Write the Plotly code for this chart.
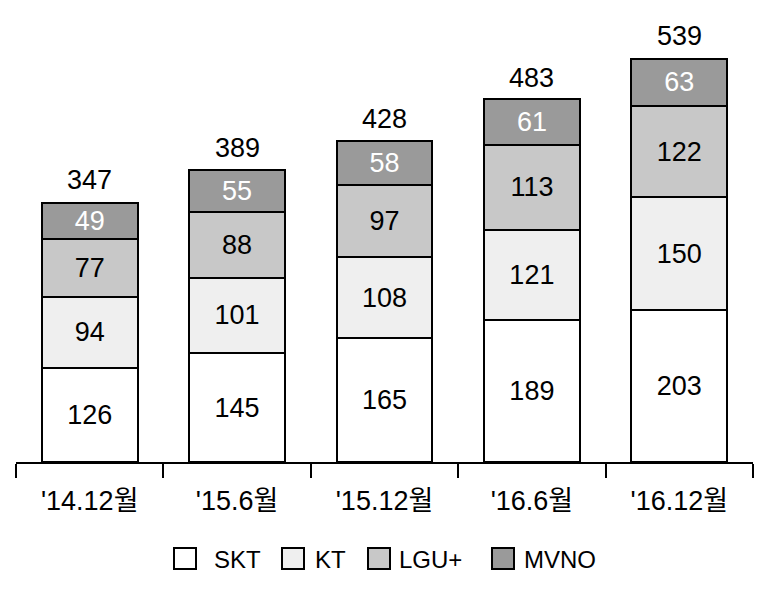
import plotly.graph_objects as go

categories = ["'14.12월", "'15.6월", "'15.12월", "'16.6월", "'16.12월"]
skt = [126, 145, 165, 189, 203]
kt = [94, 101, 108, 121, 150]
lgu = [77, 88, 97, 113, 122]
mvno = [49, 55, 58, 61, 63]
totals = [347, 389, 428, 483, 539]

series = [
    ("SKT", skt, "#ffffff", "black"),
    ("KT", kt, "#efefef", "black"),
    ("LGU+", lgu, "#c8c8c8", "black"),
    ("MVNO", mvno, "#9a9a9a", "white"),
]

FONT = "Liberation Sans, Noto Sans CJK KR"
fig = go.Figure()
for name, vals, col, tcol in series:
    fig.add_trace(go.Bar(
        name=name, x=categories, y=vals,
        marker=dict(color=col, line=dict(color="black", width=2)),
        text=vals, textposition="inside", insidetextanchor="middle",
        textangle=0, textfont=dict(color=tcol, size=27, family=FONT),
        width=0.65, showlegend=False,
    ))

# totals above bars
for c, t in zip(categories, totals):
    fig.add_annotation(x=c, y=t, text=str(t), showarrow=False, yanchor="bottom",
                       yshift=5, font=dict(size=27, family=FONT, color="black"))

# custom legend (larger squares than plotly's legend allows)
W, L, TOP, H = 737, 16, 12, 450
def px(x):
    return (x - L) / W
def py(y):
    return (TOP + H - y) / H
legend_sq_x = [174, 282, 368, 492]
legend_txt_x = [213, 314, 398, 523]
sq_top, sq_bot, sq_mid = 548, 569, 559
for (name, _, col, _), sx, tx in zip(series, legend_sq_x, legend_txt_x):
    fig.add_shape(type="rect", xref="paper", yref="paper",
                  x0=px(sx), x1=px(sx + 22), y0=py(sq_bot), y1=py(sq_top),
                  fillcolor=col, line=dict(color="black", width=2))
    fig.add_annotation(xref="paper", yref="paper", x=px(tx - 1), y=py(sq_mid),
                       xanchor="left", yanchor="middle", text=name, showarrow=False,
                       font=dict(size=24, family=FONT, color="black"))

fig.update_layout(
    barmode="stack",
    width=760, height=583,
    margin=dict(l=8, r=15, t=4, b=129, autoexpand=False),
    paper_bgcolor="white", plot_bgcolor="white",
    font=dict(family=FONT, color="black"),
    showlegend=False,
)
fig.update_xaxes(
    range=[-0.5, 4.5], showline=True, linecolor="black", linewidth=2,
    ticks="outside", tickson="boundaries", ticklen=14, tickwidth=1.5, tickcolor="black",
    tickfont=dict(size=27, family=FONT), showgrid=False, automargin=False,
    ticklabelstandoff=14,
)
fig.update_yaxes(range=[0, 600], visible=False, showgrid=False, automargin=False)

fig.write_html("out.html")
